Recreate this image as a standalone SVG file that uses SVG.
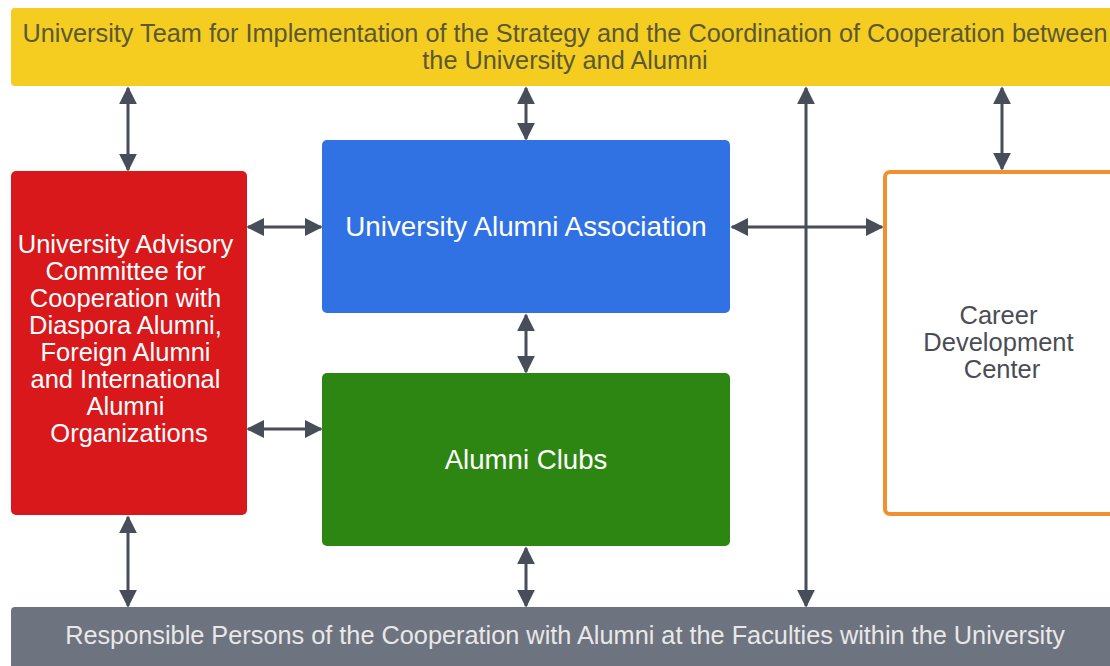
<svg xmlns="http://www.w3.org/2000/svg" width="1110" height="666" viewBox="0 0 1110 666">
<defs>
<style>
.t{font-family:"Liberation Sans",Arial,sans-serif;text-anchor:middle;}
.c{stroke:#474E5A;stroke-width:3;fill:none;marker-start:url(#ah);marker-end:url(#ah);}
</style>
<marker id="ah" viewBox="0 0 10 10" refX="9" refY="5" markerWidth="6" markerHeight="6" orient="auto-start-reverse" markerUnits="strokeWidth">
<path d="M0,0 L10,5 L0,10 z" fill="#474E5A"/>
</marker>
</defs>
<rect width="1110" height="666" fill="#ffffff"/>
<g id="connectors">
<line class="c" x1="128" y1="88" x2="128" y2="170"/>
<line class="c" x1="526" y1="88" x2="526" y2="139"/>
<line class="c" x1="806" y1="88" x2="806" y2="606"/>
<line class="c" x1="1002" y1="88" x2="1002" y2="169"/>
<line class="c" x1="732" y1="227" x2="882" y2="227"/>
<line class="c" x1="248" y1="227" x2="321" y2="227"/>
<line class="c" x1="248" y1="429" x2="321" y2="429"/>
<line class="c" x1="526" y1="315" x2="526" y2="372"/>
<line class="c" x1="128" y1="517" x2="128" y2="606"/>
<line class="c" x1="526" y1="548" x2="526" y2="606"/>
</g>
<g id="team">
<rect x="11" y="8" width="1110" height="78" rx="4" fill="#F5CD21"/>
<text class="t" x="565" y="42" font-size="25.3" fill="#5B5835">University Team for Implementation of the Strategy and the Coordination of Cooperation between</text>
<text class="t" x="565" y="69" font-size="25.3" fill="#5B5835">the University and Alumni</text>
</g>
<g id="advisory">
<rect x="11" y="171" width="236" height="344" rx="5" fill="#D9181B"/>
<text class="t" font-size="25.5" fill="#ffffff">
<tspan x="129" y="253">University Advisory</tspan>
<tspan x="129" y="280">Committee for</tspan>
<tspan x="129" y="307">Cooperation with</tspan>
<tspan x="129" y="334">Diaspora Alumni,</tspan>
<tspan x="129" y="361">Foreign Alumni</tspan>
<tspan x="129" y="388">and International</tspan>
<tspan x="129" y="415">Alumni</tspan>
<tspan x="129" y="442">Organizations</tspan>
</text>
</g>
<g id="association">
<rect x="322" y="140" width="408" height="173" rx="5" fill="#3072E3"/>
<text class="t" x="526" y="236" font-size="27.8" fill="#ffffff">University Alumni Association</text>
</g>
<g id="clubs">
<rect x="322" y="373" width="408" height="173" rx="5" fill="#2E8612"/>
<text class="t" x="526" y="469" font-size="27.6" fill="#ffffff">Alumni Clubs</text>
</g>
<g id="career">
<rect x="885" y="172" width="240" height="342" rx="5" fill="#ffffff" stroke="#F0912F" stroke-width="4"/>
<text class="t" font-size="25.5" fill="#4A4D55">
<tspan x="1002" y="324">Career</tspan>
<tspan x="1002" y="351">Development</tspan>
<tspan x="1002" y="378">Center</tspan>
</text>
</g>
<g id="responsible">
<rect x="11" y="607" width="1110" height="70" rx="4" fill="#6E7380"/>
<text class="t" x="565" y="644" font-size="25.3" fill="#E8E8E8">Responsible Persons of the Cooperation with Alumni at the Faculties within the University</text>
</g>
</svg>
